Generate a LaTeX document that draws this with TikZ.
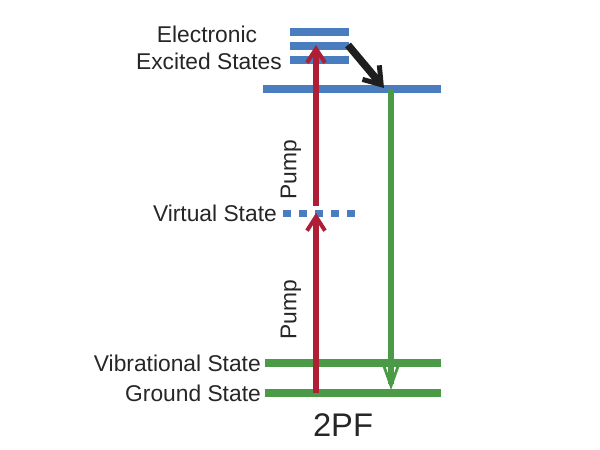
\documentclass[tikz,border=0pt]{standalone}
\usepackage{fontspec}
\setmainfont{Liberation Sans}
\usetikzlibrary{arrows.meta}
\definecolor{lvblue}{HTML}{4A7DC0}
\definecolor{pumpred}{HTML}{AE1F36}
\definecolor{lvgreen}{HTML}{4B9A47}
\definecolor{darkarrow}{HTML}{1E1E1E}
\begin{document}
\begin{tikzpicture}[x=1pt,y=-1pt,
  level/.style={line width=8pt},
  bluelevel/.style={level,draw=lvblue},
  greenlevel/.style={level,draw=lvgreen},
  pumparrow/.style={draw=pumpred,line width=6pt,-{Straight Barb[length=14pt,width=18pt,line width=4pt]}},
  decayarrow/.style={draw=lvgreen,line width=5.5pt,-{Straight Barb[length=25pt,width=18pt,line width=2.8pt]}},
  relaxarrow/.style={draw=darkarrow,line width=7.5pt,-{Straight Barb[length=16pt,width=22pt,line width=5pt]}},
  lbl/.style={font=\fontsize{22.8}{27}\selectfont,text=black!85,inner sep=0pt},
  pumplbl/.style={lbl,rotate=90}]
\useasboundingbox (0,0) rectangle (600,450);
% coordinates
\coordinate (e3l) at (290,32); \coordinate (e3r) at (349,32);
\coordinate (e2l) at (290,46); \coordinate (e2r) at (349,46);
\coordinate (e1l) at (290,60); \coordinate (e1r) at (349,60);
\coordinate (s1l) at (263,89); \coordinate (s1r) at (441,89);
\coordinate (vl) at (283,213); \coordinate (vr) at (360,213);
\coordinate (vibl) at (265,363); \coordinate (vibr) at (441,363);
\coordinate (gl) at (265,393); \coordinate (gr) at (441,393);
\coordinate (pg) at (316,393); \coordinate (pv) at (316,213);
\coordinate (pvs) at (316,206); \coordinate (pe) at (316,45);
\coordinate (rs) at (348,45); \coordinate (re) at (384,88);
\coordinate (ds) at (391,89); \coordinate (de) at (391,390);
% levels
\draw[bluelevel] (e3l) -- (e3r);
\draw[bluelevel] (e2l) -- (e2r);
\draw[bluelevel] (e1l) -- (e1r);
\draw[bluelevel] (s1l) -- (s1r);
\draw[lvblue,line width=7pt,dash pattern=on 8pt off 8pt] (vl) -- (vr);
\draw[greenlevel] (vibl) -- (vibr);
\draw[greenlevel] (gl) -- (gr);
% arrows
\draw[pumparrow] (pg) -- (pv);
\draw[pumparrow] (pvs) -- (pe);
\draw[decayarrow] (ds) -- (de);
\draw[relaxarrow] (rs) -- (re);
% labels
\node[lbl] (tel) at (207,34) {Electronic};
\node[lbl,anchor=east] (tex) at (282,61) {Excited States};
\node[lbl,anchor=east] (tvs) at (277,213) {Virtual State};
\node[lbl,anchor=east] (tvib) at (261,363) {Vibrational State};
\node[lbl,anchor=east] (tgs) at (261,393) {Ground State};
\node[pumplbl] (pu1) at (291,170) {Pump};
\node[pumplbl] (pu2) at (291,310) {Pump};
\node[lbl,font=\fontsize{32.7}{38}\selectfont] (tpf) at (343,425) {2PF};
\end{tikzpicture}
\end{document}
